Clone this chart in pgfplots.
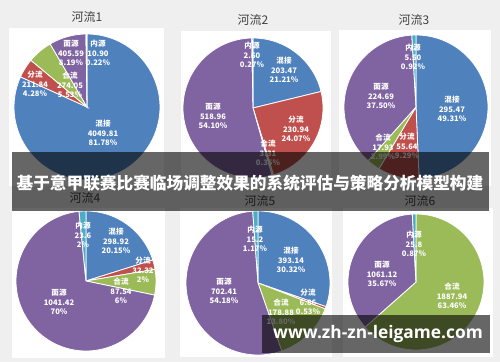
\documentclass[border=0pt]{standalone}
\usepackage{pgfplots}
\pgfplotsset{compat=1.18}
\usepackage{fontspec}
\setmainfont{Noto Sans CJK SC}
\newfontfamily\wmfont{Open Sans}
\definecolor{cB}{HTML}{4F81BD}
\definecolor{cR}{HTML}{C0504D}
\definecolor{cG}{HTML}{9BBB59}
\definecolor{cP}{HTML}{8064A2}
\definecolor{cC}{HTML}{4BACC6}
\definecolor{bg}{HTML}{EFEFEF}
\definecolor{ttl}{HTML}{404040}
\pgfplotsset{pie/.style={hide axis, scale only axis, xmin=-1,xmax=1,ymin=-1,ymax=1, anchor=center, clip=false}}
\newcommand\pietotal[1]{\pgfmathsetmacro\ptot{#1}\xdef\ptot{\ptot}\xdef\ps{90}}
\newcommand\slice[2]{%
 \pgfmathsetmacro\pf{#1/\ptot}%
 \pgfmathsetmacro\pe{\ps-360*\pf}%
 \edef\tmp{\noexpand\addplot[fill=#2,draw=white,line width=0.6pt,domain=\pe:\ps,samples=90] ({cos(x)},{sin(x)}) -- (axis cs:0,0) -- cycle;}%
 \tmp
 \xdef\ps{\pe}}
\tikzset{lab/.style={align=center, text=white, font=\bfseries\fontsize{5.7}{7}\selectfont, inner sep=0pt},
 ttl/.style={text=ttl, font=\fontsize{9}{10}\selectfont}}
\begin{document}
\begin{tikzpicture}[x=0.75pt,y=0.75pt]
\useasboundingbox (0,0) rectangle (500,362);
\fill[bg] (0,0) rectangle (500,362);
% panels
\fill[white] (9,176) rectangle (164,334);
\fill[white] (181,176) rectangle (331,331);
\fill[white] (339,176) rectangle (491,332);
\fill[white] (12,4) rectangle (165,154);
\fill[white] (180,5) rectangle (332,154);
\fill[white] (343,5) rectangle (493,154);
% titles
\node[ttl] at (87,345) {河流1};
\node[ttl] at (253,342) {河流2};
\node[ttl] at (414,342) {河流3};
\node[ttl] at (85,164) {河流4};
\node[ttl] at (260,161) {河流5};
\node[ttl] at (420,161) {河流6};
% pie 1
\begin{axis}[pie, at={(65.25pt,191.25pt)}, width=109.5pt, height=109.5pt]
\pietotal{4049.81+211.84+274.05+405.59+10.90}
\slice{4049.81}{cB}
\slice{211.84}{cR}
\slice{274.05}{cG}
\slice{405.59}{cP}
\slice{10.90}{cC}
\end{axis}
% pie 2
\begin{axis}[pie, at={(189.75pt,190.5pt)}, width=105pt, height=105pt]
\pietotal{203.47+230.94+3.31+518.96+2.60}
\slice{203.47}{cB}
\slice{230.94}{cR}
\slice{3.31}{cG}
\slice{518.96}{cP}
\slice{2.60}{cC}
\end{axis}
% pie 3
\begin{axis}[pie, at={(312pt,191.25pt)}, width=108pt, height=108pt]
\pietotal{295.47+55.64+17.93+224.69+5.50}
\slice{295.47}{cB}
\slice{55.64}{cR}
\slice{17.93}{cG}
\slice{224.69}{cP}
\slice{5.50}{cC}
\end{axis}
% pie 4
\begin{axis}[pie, at={(64.5pt,60.75pt)}, width=105pt, height=105pt]
\pietotal{298.92+32.32+87.54+1041.42+23.6}
\slice{298.92}{cB}
\slice{32.32}{cR}
\slice{87.54}{cG}
\slice{1041.42}{cP}
\slice{23.6}{cC}
\end{axis}
% pie 5
\begin{axis}[pie, at={(193.5pt,59.25pt)}, width=108pt, height=108pt]
\pietotal{393.14+6.86+178.88+702.41+15.2}
\slice{393.14}{cB}
\slice{6.86}{cR}
\slice{178.88}{cG}
\slice{702.41}{cP}
\slice{15.2}{cC}
\end{axis}
% pie 6
\begin{axis}[pie, at={(312pt,60pt)}, width=102pt, height=102pt]
\pietotal{1887.94+1061.12+25.8}
\slice{1887.94}{cG}
\slice{1061.12}{cP}
\slice{25.8}{cC}
\end{axis}
% labels pie 1
\node[lab] at (98,309) {内源\\10.90\\0.22\%};
\node[lab] at (71,309) {面源\\405.59\\8.19\%};
\node[lab] at (35,278) {分流\\211.84\\4.28\%};
\node[lab] at (70,277) {合流\\274.05\\5.53\%};
\node[lab] at (103,229) {混接\\4049.81\\81.78\%};
% pie 2
\node[lab] at (252,307) {内源\\2.60\\0.27\%};
\node[lab] at (284,292) {混接\\203.47\\21.21\%};
\node[lab] at (296,233) {分流\\230.94\\24.07\%};
\node[lab] at (213,246) {面源\\518.96\\54.10\%};
\node[lab] at (268,209) {合流\\3.31\\0.35\%};
% pie 3
\node[lab] at (413,305) {内源\\5.50\\0.92\%};
\node[lab] at (452,253) {混接\\295.47\\49.31\%};
\node[lab] at (381,266) {面源\\224.69\\37.50\%};
\node[lab] at (383,215) {合流\\17.93\\2.99\%};
\node[lab] at (407,216) {分流\\55.64\\9.29\%};
% pie 4
\node[lab] at (83,127) {内源\\23.6\\2\%};
\node[lab] at (116,121) {混接\\298.92\\20.15\%};
\node[lab] at (143,92) {分流\\32.32\\2\%};
\node[lab] at (121,71) {合流\\87.54\\6\%};
\node[lab] at (59,60) {面源\\1041.42\\70\%};
% pie 5
\node[lab] at (255,123) {内源\\15.2\\1.17\%};
\node[lab] at (291,102) {混接\\393.14\\30.32\%};
\node[lab] at (308,60) {分流\\6.86\\0.53\%};
\node[lab] at (281,50) {合流\\178.88\\13.80\%};
\node[lab] at (224,71) {面源\\702.41\\54.18\%};
% pie 6
\node[lab] at (414,118) {内源\\25.8\\0.87\%};
\node[lab] at (382,88) {面源\\1061.12\\35.67\%};
\node[lab] at (452,66) {合流\\1887.94\\63.46\%};
% banner
\fill[black, opacity=0.6] (12,151) rectangle (489,210);
\node[text=white, font=\bfseries\fontsize{12.5}{14}\selectfont, inner sep=0pt] at (250,179) {基于意甲联赛比赛临场调整效果的系统评估与策略分析模型构建};
% watermark
\fill[black, opacity=0.6] (262,9) rectangle (490,47);
\node[text=white, font=\wmfont\bfseries\fontsize{13}{15}\selectfont, inner sep=0pt] at (378,28) {www.zh-zn-leigame.com};
\end{tikzpicture}
\end{document}
